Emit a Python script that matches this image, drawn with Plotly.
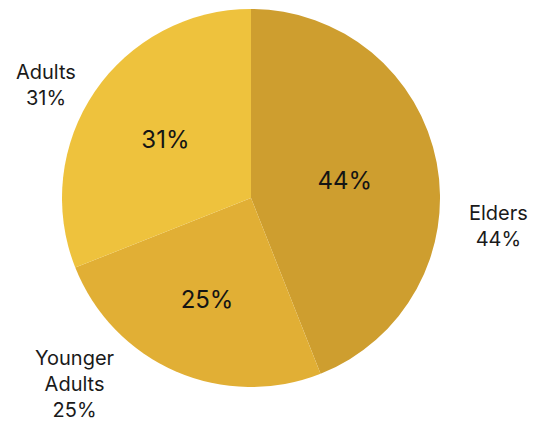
import plotly.graph_objects as go

# Share of each age group
groups = ["Elders", "Younger Adults", "Adults"]
shares = [44, 25, 31]
colors = ["#CE9E2F", "#E1AF35", "#EEC23D"]

# Outer label text, split across lines
outer_names = ["Elders", "Younger<br>Adults", "Adults"]

fig = go.Figure()
fig.add_trace(go.Pie(
    labels=groups,
    values=shares,
    sort=False,
    direction="clockwise",
    rotation=0,
    marker=dict(colors=colors, line=dict(width=0)),
    texttemplate="%{value}%",
    textposition="inside",
    insidetextorientation="horizontal",
    insidetextfont=dict(family="Inter", size=24, color="#141414"),
    showlegend=False,
    hoverinfo="label+percent",
    domain=dict(x=[0.1161, 0.824], y=[0.0915, 0.979]),
))

# Outer labels placed around the pie
label_pos = {
    "Elders": (0.933, 0.469),
    "Younger Adults": (0.140, 0.099),
    "Adults": (0.086, 0.800),
}
for name, text, val in zip(groups, outer_names, shares):
    x, y = label_pos[name]
    fig.add_annotation(
        x=x, y=y, xref="paper", yref="paper",
        xanchor="center", yanchor="middle",
        text=f"{text}<br>{val}%",
        showarrow=False,
        align="center",
        font=dict(family="Inter", size=20, color="#1a1a1a"),
    )

fig.update_layout(
    width=534, height=426,
    margin=dict(l=0, r=0, t=0, b=0),
    paper_bgcolor="#FFFFFF",
    plot_bgcolor="#FFFFFF",
)

fig.write_html("out.html")
